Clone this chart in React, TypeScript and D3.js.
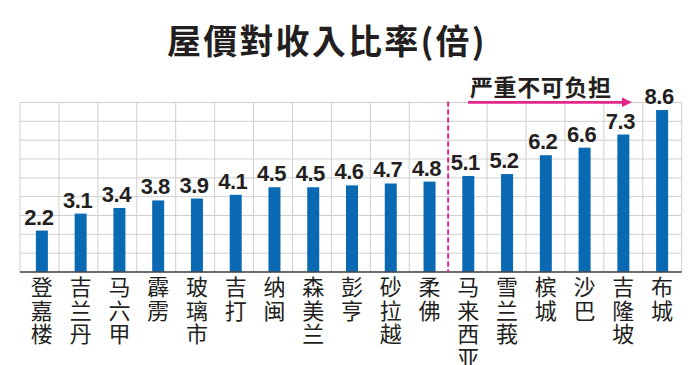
import React from 'react';
import * as d3 from 'd3';

const cities = ['登嘉楼', '吉兰丹', '马六甲', '霹雳', '玻璃市', '吉打', '纳闽', '森美兰', '彭亨', '砂拉越', '柔佛', '马来西亚', '雪兰莪', '槟城', '沙巴', '吉隆坡', '布城'];
const ratios = [2.2, 3.1, 3.4, 3.8, 3.9, 4.1, 4.5, 4.5, 4.6, 4.7, 4.8, 5.1, 5.2, 6.2, 6.6, 7.3, 8.6];
const title = '屋價對收入比率(倍)';
const note = '严重不可负担';
const splitAt = '马来西亚'; // dashed divider goes before this one

const W = 699;
const H = 365;
const barColor = '#0a69b3';
const pink = '#e2278b';

export default function App() {
  const grid = { left: 20, right: 681.7, top: 102.5, bottom: 272 };

  // bars sit a touch right of the grid cells on the left side
  const x = d3.scaleBand<string>().domain(cities).range([22.5, 681.5]).paddingInner(0);
  const gx = d3.scaleLinear().domain([0, cities.length]).range([grid.left, grid.right]);
  const y = d3.scaleLinear().domain([0, 9]).range([grid.bottom, grid.top]);

  const barW = 12;
  const divX = gx(cities.indexOf(splitAt));

  return (
    <svg width={W} height={H} style={{ position: 'absolute', left: 0, top: 0, background: '#fff' }}>
      <text x={167} y={54} fontFamily="'Noto Sans CJK TC', sans-serif" fontWeight={700}
        fontSize={34} letterSpacing={2.2} fill="#231f20">{title}</text>

      {/* grid */}
      <g stroke="#cfcfcf" strokeWidth={1}>
        {y.ticks(9).map(t => (
          <line key={'h' + t} x1={grid.left} x2={grid.right} y1={y(t)} y2={y(t)} />
        ))}
        {d3.range(cities.length + 1).map(i => (
          <line key={'v' + i} x1={gx(i)} x2={gx(i)} y1={grid.top} y2={grid.bottom} />
        ))}
      </g>

      {/* bars */}
      {cities.map((c, i) => {
        const cx = x(c)! + x.bandwidth() / 2;
        return (
          <g key={c}>
            <rect x={cx - barW / 2} y={y(ratios[i])} width={barW} height={grid.bottom - y(ratios[i])} fill={barColor} />
            <text x={cx - 3} y={y(ratios[i]) - 6} textAnchor="middle" fontFamily="'Liberation Sans', Arial, sans-serif"
              fontWeight={700} fontSize={22} letterSpacing={-0.5} fill="#231f20">{ratios[i].toFixed(1)}</text>
            {/* vertical label, one char per line */}
            <text textAnchor="middle" fontFamily="'Noto Sans CJK SC', sans-serif" fontSize={22} fill="#231f20">
              {c.split('').map((ch, k) => (
                <tspan key={k} x={cx} y={295 + k * 23.5}>{ch}</tspan>
              ))}
            </text>
          </g>
        );
      })}

      <line x1={grid.left} x2={grid.right} y1={grid.bottom} y2={grid.bottom} stroke="#444" strokeWidth={1.5} />

      {/* divider + arrow */}
      <line x1={divX} x2={divX} y1={grid.top - 1} y2={grid.bottom} stroke={pink} strokeWidth={2} strokeDasharray="5,3" />
      <line x1={468} x2={624} y1={102.3} y2={102.3} stroke={pink} strokeWidth={2.7} />
      <path d="M622,97.5 L632,102.3 L622,107.1 Z" fill={pink} />
      <text x={470} y={96} fontFamily="'Noto Sans CJK SC', sans-serif" fontWeight={700} fontSize={23}
        letterSpacing={0.6} fill="#231f20">{note}</text>
    </svg>
  );
}
